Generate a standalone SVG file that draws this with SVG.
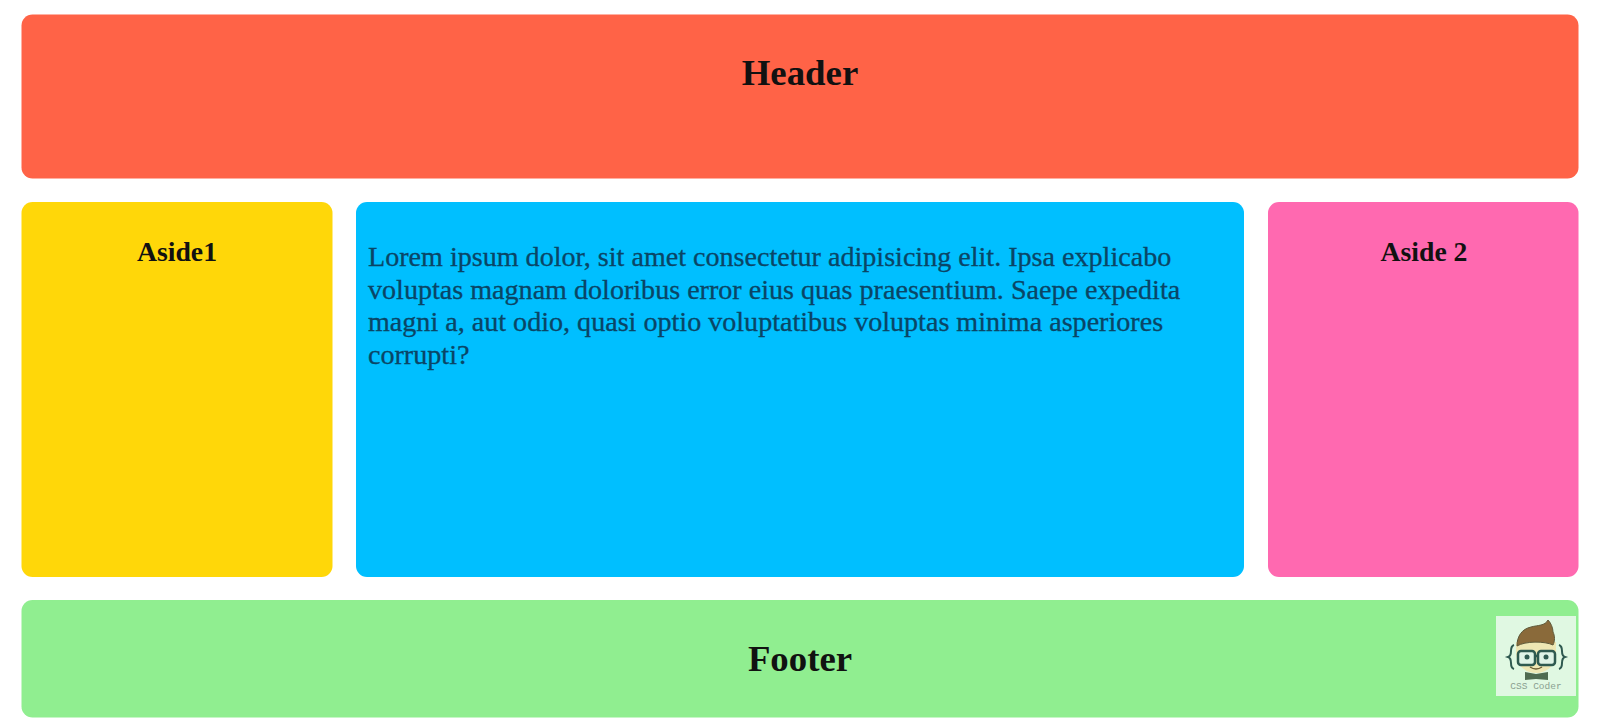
<svg xmlns="http://www.w3.org/2000/svg" width="1600" height="720" viewBox="0 0 1600 720">
<style>
.t{font-family:"Liberation Serif","Times New Roman",serif;fill:#111}
.h{font-weight:bold;text-anchor:middle}
.p{font-size:28.1px;fill:#0a4566;stroke:#0a4566;stroke-width:.3}
</style>
<rect width="1600" height="720" fill="#fff"/>
<g id="header"><rect x="21.5" y="14.5" width="1557" height="164" rx="11" fill="#ff6347"/><text class="t h" x="800" y="85" font-size="36.8">Header</text></g>
<g id="aside1"><rect x="21.5" y="202" width="311" height="375" rx="11" fill="#ffd709"/><text class="t h" x="177" y="261" font-size="27.7">Aside1</text></g>
<g id="main"><rect x="356" y="202" width="888" height="375" rx="11" fill="#00bfff"/>
<text class="t p" x="368" y="266">Lorem ipsum dolor, sit amet consectetur adipisicing elit. Ipsa explicabo</text>
<text class="t p" x="368" y="299">voluptas magnam doloribus error eius quas praesentium. Saepe expedita</text>
<text class="t p" x="368" y="331">magni a, aut odio, quasi optio voluptatibus voluptas minima asperiores</text>
<text class="t p" x="368" y="364">corrupti?</text></g>
<g id="aside2"><rect x="1268" y="202" width="310.5" height="375" rx="11" fill="#ff69b0"/><text class="t h" x="1424" y="261" font-size="27.7">Aside 2</text></g>
<g id="footer"><rect x="21.5" y="600" width="1557" height="117.5" rx="11" fill="#90ee90"/><text class="t h" x="800" y="671" font-size="36.8">Footer</text></g>
<g id="logo">
<rect x="1496" y="616" width="80" height="80" fill="#e0f8e2"/>
<path d="M1518 650l-1-10 6 0z" fill="#2f5a50"/>
<path d="M1516 642h40v10c0 13-9 21-20 21s-20-8-20-21z" fill="#eee7b4"/>
<path d="M1517 646c0-10 5-17 14-19 7-2 14-1 17-7 3 3 5 8 5 12 2 4 2 9 0 13-8-4-28-4-36 1z" fill="#8a6a3a" stroke="#5f5a3a" stroke-width="1"/>
<rect x="1518" y="651" width="17" height="14" rx="3" fill="#dff3e6" stroke="#2f5a50" stroke-width="2.5"/>
<rect x="1538" y="651" width="17" height="14" rx="3" fill="#dff3e6" stroke="#2f5a50" stroke-width="2.5"/>
<path d="M1535 656h3" stroke="#2f5a50" stroke-width="2.5"/>
<circle cx="1527" cy="657" r="2.5" fill="#2f5a50"/><circle cx="1546" cy="657" r="2.5" fill="#2f5a50"/>
<path d="M1530 667q6 4 12 0" fill="none" stroke="#6a5a30" stroke-width="1.5"/>
<path d="M1514 645q-3 1-3 6t-3 6q3 1 3 6t3 6M1559 645q3 1 3 6t3 6q-3 1-3 6t-3 6" fill="none" stroke="#2f5a50" stroke-width="2"/>
<path d="M1525 672l11 2 12-2v8l-12-1-11 1z" fill="#4f6b50"/>
<text x="1536" y="689" font-family="'Liberation Mono',monospace" font-size="9.5" fill="#8aa090" text-anchor="middle">CSS Coder</text>
</g>
</svg>
